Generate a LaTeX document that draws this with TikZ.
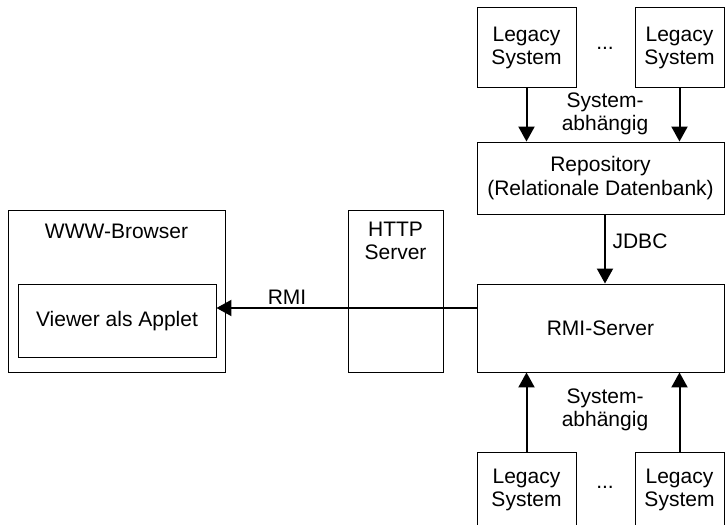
\documentclass[tikz,border=0pt]{standalone}
\usepackage{fontspec}
\setmainfont{Liberation Sans}
\usetikzlibrary{arrows.meta}
\begin{document}
\begin{tikzpicture}[x=1pt,y=-1pt,
  box/.style={draw,line width=0.9pt,inner sep=0pt},
  lbl/.style={font=\fontsize{21}{23.5}\selectfont,align=center,inner sep=0pt},
  conn/.style={line width=2pt,-{Triangle[length=15pt,width=16pt]}}]
\useasboundingbox (0,0) rectangle (726,525);
% boxes
\node[box,minimum width=99pt,minimum height=80pt] (lt1) at (526.5,47.5) {};
\node[box,minimum width=89pt,minimum height=80pt] (lt2) at (679.5,47.5) {};
\node[box,minimum width=247pt,minimum height=72pt] (repo) at (600.5,178) {};
\node[box,minimum width=247pt,minimum height=88pt] (rmi) at (600.5,328) {};
\node[box,minimum width=99pt,minimum height=80pt] (lb1) at (526.5,492) {};
\node[box,minimum width=89pt,minimum height=80pt] (lb2) at (679.5,492) {};
\node[box,minimum width=217pt,minimum height=162pt] (www) at (116.5,291) {};
\node[box,minimum width=198pt,minimum height=73pt] (view) at (117,320.5) {};
\node[box,minimum width=95pt,minimum height=162pt] (http) at (395.5,291) {};
% texts
\node[lbl] (tlt1) at (526.5,48) {Legacy\\System};
\node[lbl] (tlt2) at (679.5,48) {Legacy\\System};
\node[lbl] (tdt) at (605,48) {...};
\node[lbl] (trepo) at (600.5,178) {Repository\\(Relationale Datenbank)};
\node[lbl] (tsa1) at (605,114) {System-\\abhängig};
\node[lbl] (tjdbc) at (640,241) {JDBC};
\node[lbl] (trmi) at (600.5,328) {RMI-Server};
\node[lbl] (tsa2) at (605,410) {System-\\abhängig};
\node[lbl] (tlb1) at (526.5,490) {Legacy\\System};
\node[lbl] (tlb2) at (679.5,490) {Legacy\\System};
\node[lbl] (tdb) at (605,487) {...};
\node[lbl] (twww) at (116.5,231) {WWW-Browser};
\node[lbl] (tview) at (117,321) {Viewer als Applet};
\node[lbl] (thttp) at (395.5,241) {HTTP\\Server};
\node[lbl] (trmil) at (287,297) {RMI};
% connectors
\draw[conn] (lt1.south) -- (lt1.south |- repo.north);
\draw[conn] (lt2.south) -- (lt2.south |- repo.north);
\draw[conn] ([xshift=4.5pt]repo.south) -- ([xshift=4.5pt]repo.south |- rmi.north);
\draw[conn] (lb1.north) -- (lb1.north |- rmi.south);
\draw[conn] (lb2.north) -- (lb2.north |- rmi.south);
\draw[conn] ([yshift=20pt]rmi.west) -- ([yshift=20pt]rmi.west -| view.east);
\end{tikzpicture}
\end{document}
